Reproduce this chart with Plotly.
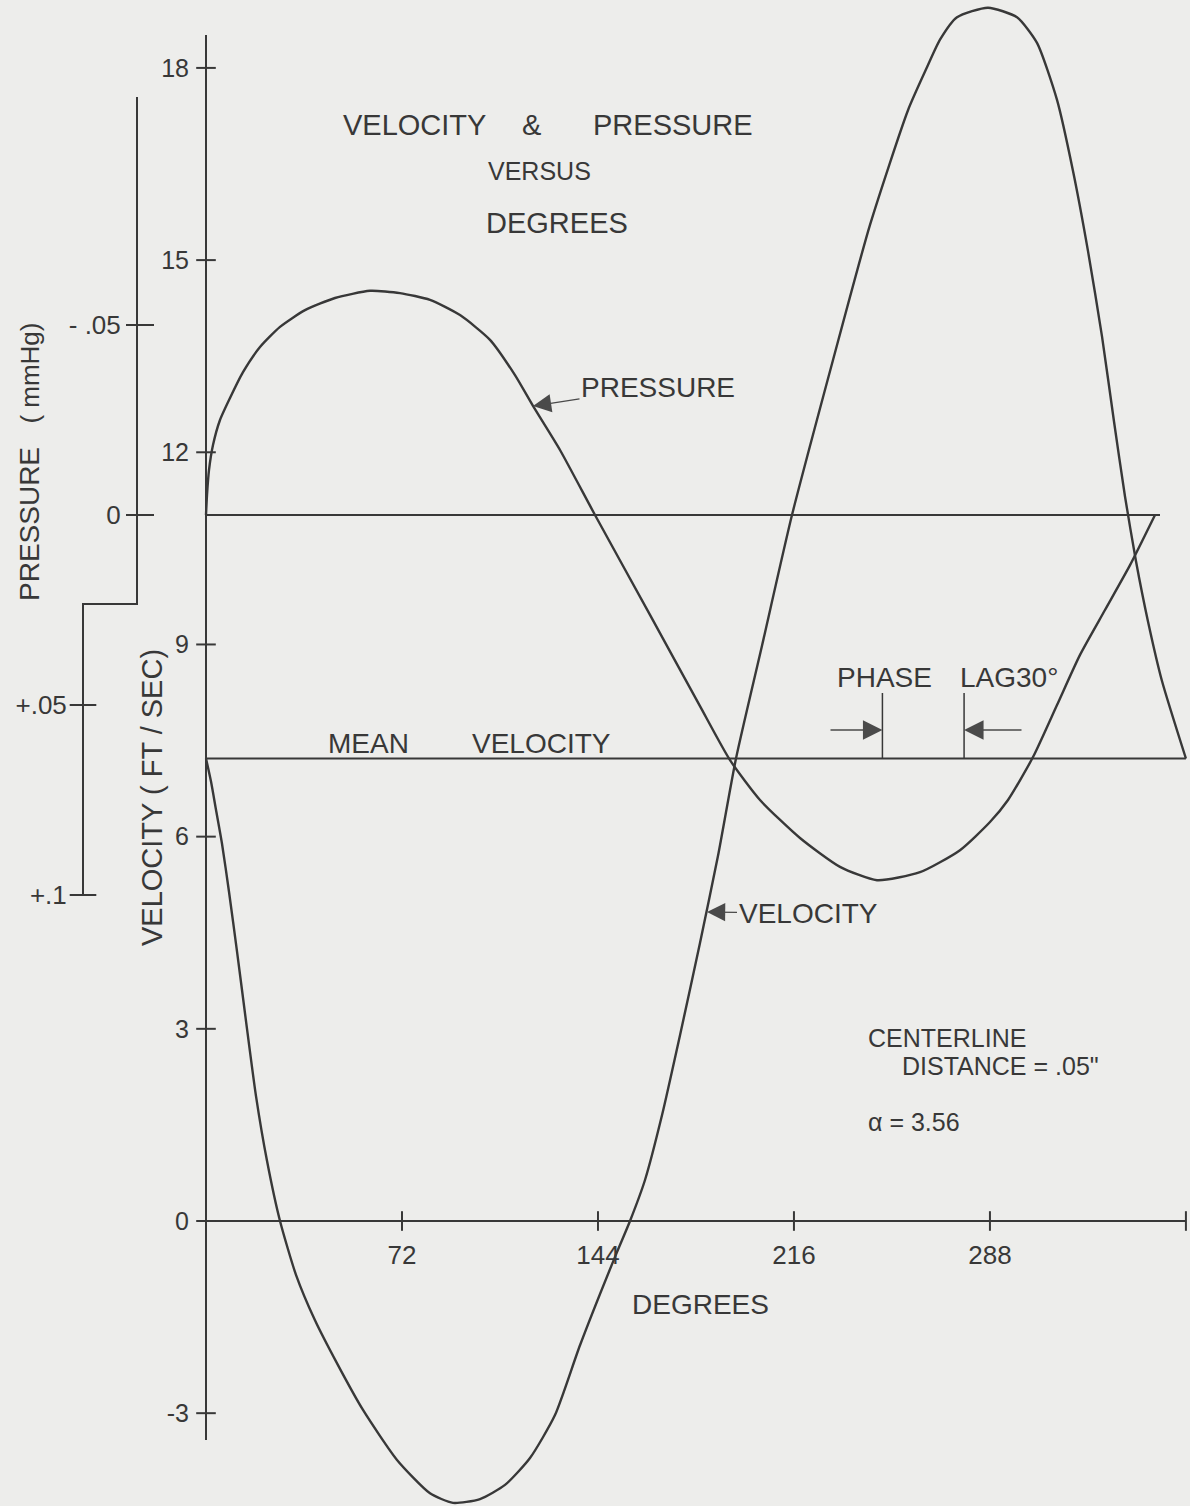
import plotly.graph_objects as go

W, H = 1190, 1506

# ---------------- data ----------------
vel_deg = [0, 1.84, 3.67, 5.88, 8.45, 11.39, 14.70, 18.37, 22.41, 27.19, 33.06, 40.04,
           48.49, 57.68, 70.17, 82.29, 90.74, 100.66, 109.85, 119.03, 128.21, 137.40,
           150.26, 155.77, 161.28, 167.52, 174.14, 181.48, 188.10, 194.71, 204.26, 215.28,
           230.35, 243.94, 257.90, 264.88, 269.66, 275.90, 287.29, 297.94, 305.29, 312.64,
           318.52, 324.03, 329.17, 333.58, 337.62, 341.66, 346.07, 351.21, 360]
vel_fps = [7.22, 6.86, 6.42, 5.89, 5.14, 4.21, 3.12, 1.95, 0.94, 0.0, -0.84, -1.55,
           -2.25, -2.95, -3.73, -4.25, -4.40, -4.34, -4.12, -3.70, -3.03, -1.94,
           -0.56, 0.0, 0.64, 1.65, 2.90, 4.34, 5.70, 7.22, 8.98, 11.02,
           13.44, 15.55, 17.34, 18.01, 18.44, 18.79, 18.94, 18.79, 18.39, 17.50,
           16.39, 15.14, 13.81, 12.48, 11.31, 10.30, 9.36, 8.43, 7.22]

pres_deg = [0, 0.37, 1.10, 2.57, 5.14, 8.82, 13.59, 19.84, 27.19, 36.37, 47.39, 60.25,
            71.27, 82.29, 93.31, 104.33, 113.52, 120.13, 130.05, 142.91, 163.12, 181.48,
            192.51, 203.53, 218.22, 232.92, 246.51, 262.31, 277.00, 288.02, 294.64, 303.82,
            312.64, 321.09, 330.27, 339.46, 348.64]
pres_mmhg = [0, -0.0053, -0.0118, -0.0184, -0.0250, -0.0308, -0.0376, -0.0442, -0.0495,
             -0.0539, -0.0571, -0.0590, -0.0584, -0.0566, -0.0526, -0.0461, -0.0368, -0.0287,
             -0.0171, 0.0, 0.0263, 0.0503, 0.0645, 0.0750, 0.0850, 0.0926, 0.0961, 0.0940,
             0.0882, 0.0808, 0.0750, 0.0637, 0.0500, 0.0368, 0.0250, 0.0132, 0.0]

MEAN_VELOCITY = 7.22
PHASE_LAG_FROM = 248.5
PHASE_LAG = 30

deg_ticks = [72, 144, 216, 288]
deg_end = 360
vel_ticks = [-3, 0, 3, 6, 9, 12, 15, 18]
vel_tick_text = ["-3", "0", "3", "6", "9", "12", "15", "18"]
p_ticks_upper = [-0.05, 0]
p_ticks_upper_text = ["- .05", "0"]
p_ticks_lower = [0.05, 0.1]
p_ticks_lower_text = ["+.05", "+.1"]

# ---------------- drawing geometry ----------------
X0_PX, PX_PER_DEG = 206, 2.722
V0_PX, PX_PER_V = 1221, 64.06
P0_PX, PX_PER_P = 515, 3800

def deg_at(x): return (x - X0_PX) / PX_PER_DEG
def v_at(y): return (V0_PX - y) / PX_PER_V
def p_at(y): return (y - P0_PX) / PX_PER_P
def fx(x): return x / W
def fy(y): return 1 - y / H

x_range = [deg_at(0), deg_at(W)]
v_range = [v_at(H), v_at(0)]
p_range = [p_at(H), p_at(0)]  # reversed: positive pressure downward

INK = "#383838"
ARROW = "#4a4a4a"
PAPER = "#ededeb"
FONT = "Liberation Sans"

fig = go.Figure()

def line(x, y, yaxis="y", width=2.0):
    fig.add_trace(go.Scatter(x=x, y=y, yaxis=yaxis, mode="lines",
                             line=dict(color=INK, width=width), hoverinfo="skip",
                             showlegend=False))

# axis lines
line([0, 0], [v_at(1440), v_at(35)])
line([0, deg_end], [0, 0])
line([0, deg_end], [MEAN_VELOCITY, MEAN_VELOCITY])
line([0, deg_at(1160)], [0, 0], yaxis="y2")
xu, xl = deg_at(137), deg_at(83)
line([xu, xu, xl, xl], [p_at(97), p_at(604), p_at(604), p_ticks_lower[-1]], yaxis="y2")

# tick crosses
def ticks(x, y, symbol, size, yaxis="y"):
    fig.add_trace(go.Scatter(x=x, y=y, yaxis=yaxis, mode="markers",
                             marker=dict(symbol=symbol, size=size,
                                         line=dict(color=INK, width=2)),
                             hoverinfo="skip", showlegend=False))

ticks([0] * len(vel_ticks), vel_ticks, "line-ew", 14)
ticks(deg_ticks + [deg_end], [0] * (len(deg_ticks) + 1), "line-ns", 14)
ticks([deg_at(140)] * len(p_ticks_upper), p_ticks_upper, "line-ew", 20, yaxis="y2")
ticks([xl] * len(p_ticks_lower), p_ticks_lower, "line-ew", 19, yaxis="y3")

# phase lag markers
pa, pb = PHASE_LAG_FROM, PHASE_LAG_FROM + PHASE_LAG
line([pa, pa, None, pb, pb], [MEAN_VELOCITY, v_at(693), None, MEAN_VELOCITY, v_at(693)], width=1.5)

# curves
fig.add_trace(go.Scatter(x=pres_deg, y=pres_mmhg, yaxis="y2", mode="lines",
                         line=dict(color=INK, width=2.4, shape="spline", smoothing=0.6),
                         name="PRESSURE", showlegend=False))
fig.add_trace(go.Scatter(x=vel_deg, y=vel_fps, yaxis="y", mode="lines",
                         line=dict(color=INK, width=2.4, shape="spline", smoothing=0.6),
                         name="VELOCITY", showlegend=False))

ann = []
def text(t, x, y, size=28, xanchor="left", angle=0):
    ann.append(dict(text=t, x=fx(x), y=fy(y), xref="paper", yref="paper",
                    xanchor=xanchor, yanchor="middle", showarrow=False, textangle=angle,
                    font=dict(family=FONT, size=size, color=INK)))

text("VELOCITY", 341, 125, size=29)
text("&amp;", 520, 125, size=29)
text("PRESSURE", 591, 125, size=29)
text("VERSUS", 486, 171, size=25)
text("DEGREES", 484, 223, size=29)
text("MEAN", 326, 743)
text("VELOCITY", 470, 743)
text("PHASE", 835, 677)
text("LAG30°", 958, 677)
text("CENTERLINE", 866, 1038, size=25)
text('DISTANCE = .05"', 900, 1066, size=25)
text("α = 3.56", 866, 1122, size=25)
text("DEGREES", 630, 1304)
text("VELOCITY ( FT / SEC)", 152, 798, size=29, xanchor="center", angle=-90)
text("PRESSURE\u00a0\u00a0\u00a0<span style='font-size:26px'>( mmHg)</span>", 30, 462, size=28,
     xanchor="center", angle=-90)

def pointer(t, tip_x, tip_y, cx, cy):
    ann.append(dict(text=t, x=deg_at(tip_x), y=v_at(tip_y), xref="x", yref="y",
                    ax=cx - tip_x, ay=cy - tip_y, showarrow=True, arrowhead=2,
                    arrowsize=2.8, arrowwidth=1.3, arrowcolor=ARROW, standoff=0,
                    font=dict(family=FONT, size=28, color=INK)))

pointer("PRESSURE", 533, 406, 658, 387)
pointer("VELOCITY", 707, 912, 808, 913)

def arrow(tip_x, tail_x, yv):
    ann.append(dict(text="", x=tip_x, y=yv, xref="x", yref="y",
                    ax=tail_x, ay=yv, axref="x", ayref="y", showarrow=True,
                    arrowhead=2, arrowsize=3.0, arrowwidth=1.3, arrowcolor=ARROW,
                    standoff=0))

arrow(pa, deg_at(829), v_at(730))
arrow(pb, deg_at(1023), v_at(730))

fig.update_layout(
    width=W, height=H, margin=dict(l=0, r=0, t=0, b=0),
    paper_bgcolor=PAPER, plot_bgcolor=PAPER, showlegend=False,
    annotations=ann,
    xaxis=dict(range=x_range, domain=[0, 1], anchor="free", position=fy(V0_PX),
               tickvals=deg_ticks, ticktext=[str(t) for t in deg_ticks],
               ticks="outside", ticklen=11, tickcolor="rgba(0,0,0,0)",
               tickfont=dict(family=FONT, size=26, color=INK),
               showgrid=False, zeroline=False, showline=False),
    yaxis=dict(range=v_range, domain=[0, 1], anchor="free", position=fx(X0_PX),
               tickvals=vel_ticks, ticktext=vel_tick_text,
               ticks="outside", ticklen=12, tickcolor="rgba(0,0,0,0)",
               tickfont=dict(family=FONT, size=25, color=INK),
               showgrid=False, zeroline=False, showline=False),
    yaxis2=dict(range=p_range, overlaying="y", anchor="free", position=fx(137),
                tickvals=p_ticks_upper, ticktext=p_ticks_upper_text,
                ticks="outside", ticklen=11, tickcolor="rgba(0,0,0,0)",
                tickfont=dict(family=FONT, size=26, color=INK),
                showgrid=False, zeroline=False, showline=False),
    yaxis3=dict(range=p_range, overlaying="y", anchor="free", position=fx(83),
                tickvals=p_ticks_lower, ticktext=p_ticks_lower_text,
                ticks="outside", ticklen=11, tickcolor="rgba(0,0,0,0)",
                tickfont=dict(family=FONT, size=26, color=INK),
                showgrid=False, zeroline=False, showline=False),
)

fig.write_html("out.html")
